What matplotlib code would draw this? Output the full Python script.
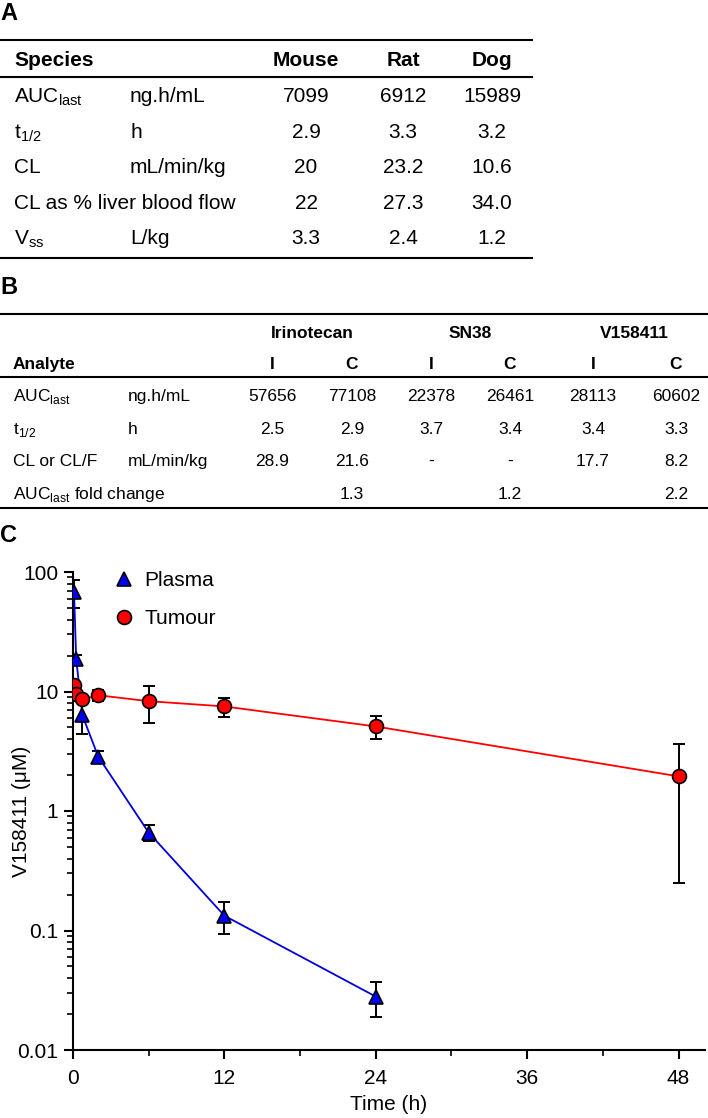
import numpy as np
import matplotlib
matplotlib.use("Agg")
import matplotlib.pyplot as plt
from matplotlib.lines import Line2D
from matplotlib import font_manager

# ── Table A: PK parameters per species ─────────────────────────────────────────
species = ["Mouse", "Rat", "Dog"]
a_params = ["AUC$_{\\mathregular{last}}$", "t$_{\\mathregular{1/2}}$", "CL",
            "CL as % liver blood flow", "V$_{\\mathregular{ss}}$"]
a_units = ["ng.h/mL", "h", "mL/min/kg", "", "L/kg"]
a_auc = ["7099", "6912", "15989"]
a_thalf = ["2.9", "3.3", "3.2"]
a_cl = ["20", "23.2", "10.6"]
a_clpct = ["22", "27.3", "34.0"]
a_vss = ["3.3", "2.4", "1.2"]

# ── Table B: analytes, I vs C ─────────────────────────────────────────────────
analytes = ["Irinotecan", "SN38", "V158411"]
arms = ["I", "C", "I", "C", "I", "C"]
b_params = ["AUC$_{\\mathregular{last}}$", "t$_{\\mathregular{1/2}}$", "CL or CL/F"]
b_units = ["ng.h/mL", "h", "mL/min/kg"]
b_auc = ["57656", "77108", "22378", "26461", "28113", "60602"]
b_thalf = ["2.5", "2.9", "3.7", "3.4", "3.4", "3.3"]
b_cl = ["28.9", "21.6", "-", "-", "17.7", "8.2"]
b_fold = ["", "1.3", "", "1.2", "", "2.2"]

# ── Panel C: concentration-time data (mean, SD) ───────────────────────────────
t_plasma = [0.083, 0.25, 0.75, 2, 6, 12, 24]
plasma = [68, 18.8, 6.3, 2.85, 0.66, 0.133, 0.028]
plasma_sd = [18, 1.5, 1.9, 0.3, 0.1, 0.04, 0.009]
t_tumour = [0.083, 0.25, 0.75, 2, 6, 12, 24, 48]
tumour = [11.4, 9.5, 8.6, 9.3, 8.3, 7.5, 5.1, 1.95]
tumour_sd = [0.6, 0.5, 0.5, 1.0, 2.8, 1.4, 1.1, 1.7]

W, H = 708, 1118
BLUE = "#0000FF"
BLUE_LINE = "#0000DD"
RED = "#FF0000"

plt.rcParams.update({
    "font.family": ["Liberation Sans", "DejaVu Sans"],
    "mathtext.fontset": "custom",
    "mathtext.rm": "Liberation Sans",
})

installed = {f.name for f in font_manager.fontManager.ttflist}
if "Liberation Sans Narrow" in installed:
    B_FAM, B_SIZE = ["Liberation Sans Narrow", "Liberation Sans"], 13.5
else:
    B_FAM, B_SIZE = ["Liberation Sans", "DejaVu Sans"], 12.5

fig = plt.figure(figsize=(W / 100, H / 100), dpi=100)


def fx(px):
    return px / W


def fy(py):
    return 1 - py / H


def hline(y, x0, x1, lw=1.5):
    fig.add_artist(Line2D([fx(x0), fx(x1)], [fy(y), fy(y)], color="black",
                          lw=lw, transform=fig.transFigure))


def txt(x, y, s, ha="left", bold=False, size=15, family=None):
    # y = visual centre of the capitals, placed via the baseline
    kw = {"family": family} if family else {}
    base = y + 0.36 * size * 100 / 72
    fig.text(fx(x), fy(base), s, ha=ha, va="baseline", fontsize=size,
             fontweight="bold" if bold else "normal", **kw)


# ── Panel A ───────────────────────────────────────────────────────────────────
txt(0, 12, "A", bold=True, size=17)
hline(40, 0, 532)
hline(77, 0, 532)
hline(258, 0, 532)
a_cols = [306, 403, 492]
txt(14, 58, "Species", bold=True)
for x, s in zip(a_cols, species):
    txt(x, 58, s, ha="center", bold=True)
a_rows = [a_auc, a_thalf, a_cl, a_clpct, a_vss]
for i, (p, u, vals) in enumerate(zip(a_params, a_units, a_rows)):
    y = 95 + i * 35.5
    txt(14, y, p)
    if u:
        txt(130, y, u)
    for x, v in zip(a_cols, vals):
        txt(x, y, v, ha="center")

# ── Panel B ───────────────────────────────────────────────────────────────────
txt(0, 285, "B", bold=True, size=17)
hline(314, 0, 708)
hline(377, 0, 708)
hline(508, 0, 708)
b_cols = [272, 352, 431, 510, 593, 676]
for k, name in enumerate(analytes):
    xc = (b_cols[2 * k] + b_cols[2 * k + 1]) / 2
    txt(xc, 332, name, ha="center", bold=True, size=B_SIZE, family=B_FAM)
txt(13, 363, "Analyte", bold=True, size=B_SIZE, family=B_FAM)
for x, s in zip(b_cols, arms):
    txt(x, 363, s, ha="center", bold=True, size=B_SIZE, family=B_FAM)
b_rows = [b_auc, b_thalf, b_cl]
for i, (p, u, vals) in enumerate(zip(b_params, b_units, b_rows)):
    y = 395 + i * 32.5
    txt(13, y, p, size=B_SIZE, family=B_FAM)
    txt(128, y, u, size=B_SIZE, family=B_FAM)
    for x, v in zip(b_cols, vals):
        txt(x, y, v, ha="center", size=B_SIZE, family=B_FAM)
yf = 395 + 3 * 32.5
txt(13, yf, "AUC$_{\\mathregular{last}}$ fold change", size=B_SIZE, family=B_FAM)
for x, v in zip(b_cols, b_fold):
    if v:
        txt(x, yf, v, ha="center", size=B_SIZE, family=B_FAM)

# ── Panel C ───────────────────────────────────────────────────────────────────
txt(0, 533, "C", bold=True, size=17)
ax = fig.add_axes([fx(73), fy(1050), (705 - 73) / W, (1050 - 572) / H])

ax.errorbar(t_plasma, plasma, yerr=plasma_sd, fmt="none", ecolor="black",
            elinewidth=1.4, capsize=4, capthick=1.4, zorder=2)
ax.errorbar(t_tumour, tumour, yerr=tumour_sd, fmt="none", ecolor="black",
            elinewidth=1.4, capsize=4, capthick=1.4, zorder=2)
ax.plot(t_plasma, plasma, color=BLUE_LINE, lw=1.3, marker="^", ms=10,
        mfc=BLUE, mec="black", mew=1.2, label="Plasma", zorder=3)
ax.plot(t_tumour, tumour, color=RED, lw=1.3, marker="o", ms=10,
        mfc=RED, mec="black", mew=1.2, label="Tumour", zorder=4)

ax.set_yscale("log")
ax.set_ylim(0.01, 100)
ax.set_xlim(0, 50.1)
ax.set_yticks([0.01, 0.1, 1, 10, 100])
ax.set_yticklabels(["0.01", "0.1", "1", "10", "100"])
ax.set_xticks([0, 12, 24, 36, 48])
ax.set_xticks([6, 18, 30, 42], minor=True)
for s in ["top", "right"]:
    ax.spines[s].set_visible(False)
for s in ["left", "bottom"]:
    ax.spines[s].set_linewidth(1.5)
ax.tick_params(which="major", direction="out", length=6.5, width=1.5,
               labelsize=15, pad=4)
ax.tick_params(axis="x", which="major", pad=7)
ax.tick_params(which="minor", direction="out", length=4, width=1.2)
ax.set_ylabel("V158411 (\u03bcM)", fontsize=15, va="center")
ax.yaxis.set_label_coords((22 - 73) / 632, 0.5)
ax.set_xlabel("Time (h)", fontsize=15, labelpad=5)

leg = ax.legend(loc="upper left", bbox_to_anchor=((115.7 - 73) / 632, 1.002),
                frameon=False, fontsize=15, handlelength=0.8,
                handletextpad=0.56, labelspacing=0.9, borderpad=0,
                borderaxespad=0, numpoints=1)
for h in leg.legend_handles:
    h.set_linestyle("none")

fig.savefig("out.png", dpi=100, facecolor="white")
